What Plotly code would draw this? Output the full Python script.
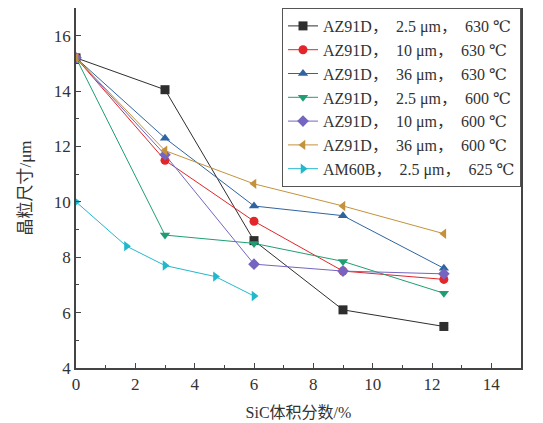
import plotly.graph_objects as go

# SiC volume fraction (%) and grain size (um)
x_az = [0, 3, 6, 9, 12.4]
az_25_630 = [15.2, 14.05, 8.6, 6.1, 5.5]
az_10_630 = [15.2, 11.5, 9.3, 7.5, 7.2]
az_36_630 = [15.2, 12.3, 9.85, 9.5, 7.6]
az_25_600 = [15.2, 8.8, 8.5, 7.85, 6.7]
az_10_600 = [15.2, 11.7, 7.75, 7.5, 7.4]
az_36_600 = [15.2, 11.85, 10.65, 9.85, 8.85]

x_am = [0, 1.7, 3, 4.7, 6]
am_25_625 = [10.0, 8.4, 7.7, 7.3, 6.6]

g1 = "\u00a0" * 2
g2 = "\u00a0" * 2
names = [
    f"AZ91D，{g1}2.5 μm，{g2}630 ℃",
    f"AZ91D，{g1}10 μm，{g2}630 ℃",
    f"AZ91D，{g1}36 μm，{g2}630 ℃",
    f"AZ91D，{g1}2.5 μm，{g2}600 ℃",
    f"AZ91D，{g1}10 μm，{g2}600 ℃",
    f"AZ91D，{g1}36 μm，{g2}600 ℃",
    f"AM60B，{g1}2.5 μm，{g2}625 ℃",
]
xs = [x_az] * 6 + [x_am]
ys = [az_25_630, az_10_630, az_36_630, az_25_600, az_10_600, az_36_600, am_25_625]
colors = ["#2e2e2e", "#e2262a", "#2f64a0", "#1f9e72", "#7565c0", "#c4923c", "#22b8cc"]
symbols = ["square", "circle", "triangle-up", "triangle-down", "diamond",
           "triangle-left", "triangle-right"]

fig = go.Figure()
for x, y, name, c, s in zip(xs, ys, names, colors, symbols):
    fig.add_trace(go.Scatter(
        x=x, y=y, name=name, mode="lines+markers",
        line=dict(color=c, width=1),
        marker=dict(symbol=s, size=9, color=c),
    ))

serif = "Liberation Serif, DejaVu Serif, Noto Sans CJK SC"
axis = dict(
    showline=True, linecolor="#444", linewidth=1.5, mirror=True,
    ticks="inside", ticklen=5, tickcolor="#444", showgrid=False, zeroline=False,
    tickfont=dict(family=serif, size=17, color="#333"), automargin=False,
    minor=dict(ticks="inside", ticklen=3, tickcolor="#444", dtick=1),
)
fig.update_xaxes(axis, range=[0, 15], dtick=2,
                 title=dict(text="SiC体积分数/%", standoff=14,
                            font=dict(family=serif, size=16, color="#333")))
fig.update_yaxes(axis, range=[4, 17], dtick=2,
                 title=dict(text="晶粒尺寸/μm", standoff=18,
                            font=dict(family=serif, size=17, color="#333")))
# page body adds an 8px offset, so the figure is a bit smaller than the window
fig.update_layout(
    width=535, height=415,
    margin=dict(l=68, r=22, t=0, b=55),
    paper_bgcolor="white", plot_bgcolor="white",
    font=dict(family=serif, color="#333"),
    legend=dict(x=1, xanchor="right", y=1, yanchor="top",
                bordercolor="#555", borderwidth=1, bgcolor="white",
                font=dict(family=serif, size=16), tracegroupgap=0),
    showlegend=True,
)
fig.write_html("out.html")
